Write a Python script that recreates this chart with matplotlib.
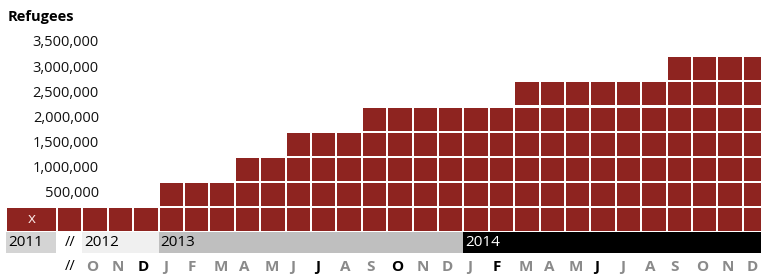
import matplotlib
matplotlib.use("Agg")
import matplotlib.pyplot as plt

plt.rcParams['font.family'] = ['Open Sans', 'DejaVu Sans']

# ---- data ----
columns = ["2011", "//", "O", "N", "D",
           "J", "F", "M", "A", "M", "J", "J", "A", "S", "O", "N", "D",
           "J", "F", "M", "A", "M", "J", "J", "A", "S", "O", "N", "D"]
refugee_level = [0, 0, 0, 0, 0,
                 500000, 500000, 500000, 1000000, 1000000, 1500000, 1500000, 1500000,
                 2000000, 2000000, 2000000, 2000000,
                 2000000, 2000000, 2500000, 2500000, 2500000, 2500000, 2500000, 2500000,
                 3000000, 3000000, 3000000, 3000000]
highlight_months = [4, 11, 14, 18, 22]   # indices of months drawn in black
ytick_values = [500000, 1000000, 1500000, 2000000, 2500000, 3000000, 3500000]
years = ["2011", "2012", "2013", "2014"]
year_first_col = [0, 2, 5, 17]
year_last_col = [0, 4, 16, 28]
year_colors = ["#d4d4d4", "#f0f0f0", "#bfbfbf", "#000000"]
year_text_colors = ["#000000", "#000000", "#000000", "#ffffff"]

UNIT = 500000
RED = "#8e2420"
GRAY = "#8a8a8a"

fig = plt.figure(figsize=(7.61, 2.78), dpi=100)
ax = fig.add_axes([0, 0, 1, 1])
ax.set_xlim(-2.283, 27.677)
ax.set_ylim(-1.859, 9.186)
ax.axis("off")

# column x positions: first column (2011) is double width
xs = []
ws = []
for i in range(len(columns)):
    if i == 0:
        xs.append(-2.0)
        ws.append(2.0 - 0.08)
    else:
        xs.append(i - 1)
        ws.append(1.0 - 0.08)

rows = [lv // UNIT + 1 for lv in refugee_level]
max_rows = max(rows)
for k in range(max_rows):
    sel = [i for i in range(len(columns)) if rows[i] > k]
    ax.bar([xs[i] for i in sel], [0.915] * len(sel), width=[ws[i] for i in sel],
           bottom=k, align="edge", color=RED, linewidth=0)

# "x" in first column
ax.text(xs[0] + ws[0] / 2, 0.47, "x", ha="center", va="center",
        fontsize=11, color="#f7e4e2")

# y labels
for v in ytick_values:
    k = v // UNIT
    ax.text(1.61, k + 0.48, f"{v:,}", ha="right", va="center",
            fontsize=10.5, color="#111111")

ax.text(-1.97, 8.52, "Refugees", ha="left", va="center",
        fontsize=10.5, fontweight="bold", color="#000000")

# year bands
for yi, yr in enumerate(years):
    a = year_first_col[yi]
    b = year_last_col[yi]
    left = xs[a] - (0.04 if yi else 0.05)
    right = (xs[b] + ws[b]) if yi == 0 else xs[b] + 1 - 0.04
    if yi == 3:
        right = 28.5
    ax.bar(left, -0.86, width=right - left, bottom=-0.02, align="edge",
           color=year_colors[yi], linewidth=0)
    ax.text(left + 0.08, -0.45, yr, ha="left", va="center",
            fontsize=11, color=year_text_colors[yi])

# "//" markers
ax.text(xs[1] + 0.26, -0.45, "//", ha="left", va="center", fontsize=10.5, color="#000000")
ax.text(xs[1] + 0.26, -1.42, "//", ha="left", va="center", fontsize=10.5, color="#000000")

# month labels
for i in range(2, len(columns)):
    c = "#000000" if i in highlight_months else GRAY
    ax.text(xs[i] + 0.12, -1.42, columns[i], ha="left", va="center",
            fontsize=11, fontweight="bold", color=c)

fig.savefig("out.png", dpi=100)
